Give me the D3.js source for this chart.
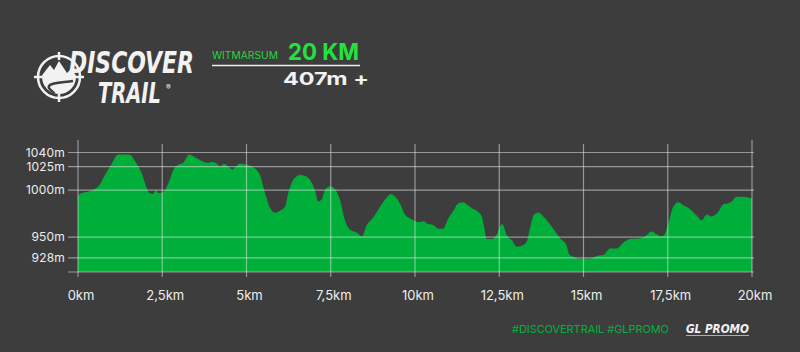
<!DOCTYPE html>
<html lang="en">
<head>
<meta charset="UTF-8">
<title>Discover Trail - Witmarsum 20 km</title>
<script src="https://d3js.org/d3.v7.min.js"></script>
<style>
  body, html {
    margin: 0;
    padding: 0;
    background: #3d3d3d;
    overflow: hidden;
  }
  svg {
    display: block;
    font-family: 'Inter', 'Open Sans', sans-serif;
  }
</style>
</head>
<body>
<svg id="chart" width="800" height="352"></svg>
<script>

// elevation profile (km along course / metres)
const distKm = [0, 0.06, 0.36, 0.65, 0.75, 0.95, 1.2, 1.52, 1.74, 1.89, 2.02, 2.09, 2.22, 2.31, 2.39, 2.53,
  2.68, 2.85, 2.98, 3.12, 3.3, 3.42, 3.62, 3.82, 3.97, 4.12, 4.21, 4.33, 4.46, 4.58, 4.69, 4.79,
  5.01, 5.25, 5.4, 5.55, 5.7, 5.85, 5.99, 6.14, 6.24, 6.39, 6.59, 6.74, 6.88, 7.03, 7.13, 7.23,
  7.33, 7.48, 7.63, 7.77, 7.92, 8.07, 8.27, 8.42, 8.57, 8.76, 8.96, 9.11, 9.29, 9.46, 9.58, 9.7,
  9.9, 10.1, 10.25, 10.39, 10.54, 10.69, 10.84, 10.99, 11.14, 11.29, 11.43, 11.53, 11.68, 11.83,
  11.98, 12.05, 12.13, 12.28, 12.43, 12.52, 12.59, 12.72, 12.87, 13.02, 13.17, 13.31, 13.41, 13.53,
  13.66, 13.86, 14.06, 14.3, 14.49, 14.59, 14.73, 14.88, 15.14, 15.34, 15.39, 15.59, 15.79, 15.99,
  16.18, 16.38, 16.68, 16.83, 17.02, 17.17, 17.29, 17.39, 17.52, 17.66, 17.81, 17.96, 18.16, 18.36,
  18.51, 18.66, 18.78, 19.0, 19.15, 19.3, 19.4, 19.54, 19.74, 20];
const elevM = [994, 996, 999, 1006, 1013, 1025, 1038, 1038, 1028, 1018, 1004, 998, 996, 1000, 997, 998,
  1007, 1023, 1027, 1029, 1038, 1036, 1032, 1029, 1030, 1028, 1025, 1028, 1025, 1022, 1025, 1028,
  1027, 1023, 1016, 997, 981, 976, 978, 982, 997, 1011, 1016, 1015, 1011, 1000, 988, 990,
  1000, 1004, 1001, 990, 968, 958, 955, 951, 963, 971, 982, 990, 996, 991, 984, 974,
  969, 966, 967, 964, 963, 959, 959, 970, 978, 986, 987, 985, 981, 978,
  972, 961, 948, 948, 953, 961, 964, 952, 947, 940, 941, 945, 959, 974,
  976, 970, 961, 949, 942, 931, 929, 927, 927, 929, 930, 931, 938, 938,
  944, 948, 949, 951, 956, 953, 951, 952, 965, 982, 987, 984, 980, 973,
  968, 974, 972, 977, 985, 986, 988, 993, 993, 991];

const yTicks = [928, 950, 1000, 1025, 1040];
const xTicks = [0, 2.5, 5, 7.5, 10, 12.5, 15, 17.5, 20];
const xTickLabels = ["0km", "2,5km", "5km", "7,5km", "10km", "12,5km", "15km", "17,5km", "20km"];

const svg = d3.select("#chart");

const x = d3.scaleLinear().domain([0, 20]).range([78, 752]);
const y = d3.scaleLinear().domain([913, 1040]).range([272, 152.5]);

const profile = distKm.map((d, i) => ({km: d, m: elevM[i]}));

// elevation area
const area = d3.area()
  .x(d => x(d.km))
  .y0(y(913))
  .y1(d => y(d.m))
  .curve(d3.curveMonotoneX);

svg.append("path")
  .datum(profile)
  .attr("d", area)
  .attr("fill", "#00af39");

// grid, drawn over the area so it shows through lighter
const grid = svg.append("g")
  .attr("stroke", "rgba(225,225,225,0.55)")
  .attr("stroke-width", 1.2);

grid.selectAll("line.h")
  .data(yTicks.concat([913]))
  .join("line")
  .attr("class", "h")
  .attr("x1", 68).attr("x2", 754)
  .attr("y1", d => y(d)).attr("y2", d => y(d));

grid.selectAll("line.v")
  .data(xTicks)
  .join("line")
  .attr("class", "v")
  .attr("x1", d => x(d)).attr("x2", d => x(d))
  .attr("y1", (d, i) => (i === 0 || i === xTicks.length - 1) ? 140 : 144)
  .attr("y2", 277);

// axis labels
svg.append("g")
  .selectAll("text")
  .data(yTicks)
  .join("text")
  .attr("x", 65)
  .attr("y", d => y(d) + 4.3)
  .attr("text-anchor", "end")
  .attr("fill", "#eeeeee")
  .attr("font-size", 12)
  .attr("letter-spacing", 0.2)
  .text(d => d + "m");

svg.append("g")
  .selectAll("text")
  .data(xTicks)
  .join("text")
  .attr("x", d => x(d) + 3)
  .attr("y", 300)
  .attr("text-anchor", "middle")
  .attr("fill", "#eeeeee")
  .attr("font-size", 13)
  .text((d, i) => xTickLabels[i]);

// squeeze a text horizontally to a given width
function fitWidth(sel, left, baseline, width) {
  const len = sel.node().getComputedTextLength();
  sel.attr("transform", `translate(${left},${baseline}) scale(${width / len},1)`);
}

// logo
const logo = svg.append("g");
const cx = 59, cy = 77, r = 21;
logo.append("circle")
  .attr("cx", cx).attr("cy", cy).attr("r", r)
  .attr("fill", "none").attr("stroke", "#f2f2f2").attr("stroke-width", 2.5);
[[0, -1], [0, 1], [-1, 0], [1, 0]].forEach(([dx, dy]) => {
  logo.append("line")
    .attr("x1", cx + dx * (r - 4)).attr("y1", cy + dy * (r - 4))
    .attr("x2", cx + dx * (r + 4)).attr("y2", cy + dy * (r + 4))
    .attr("stroke", "#f2f2f2").attr("stroke-width", 2.5);
});
logo.append("clipPath").attr("id", "logoClip")
  .append("circle").attr("cx", cx).attr("cy", cy).attr("r", r - 4);
const inner = logo.append("g").attr("clip-path", "url(#logoClip)");
inner.append("path")
  .attr("d", `M${cx - 20},${cy + 2} L${cx - 9},${cy - 12} L${cx - 5},${cy - 7} L${cx},${cy - 16} L${cx + 8},${cy - 4} L${cx + 12},${cy - 8} L${cx + 20},${cy + 2} L${cx + 20},${cy + 20} L${cx - 20},${cy + 20} Z`)
  .attr("fill", "#f2f2f2");
inner.append("path")
  .attr("d", `M${cx + 14},${cy + 4} C${cx},${cy + 6} ${cx - 12},${cy + 6} ${cx - 10},${cy + 11} C${cx - 8},${cy + 15} ${cx - 2},${cy + 15} ${cx - 6},${cy + 20}`)
  .attr("fill", "none").attr("stroke", "#3d3d3d").attr("stroke-width", 2.5);

const discover = logo.append("text")
  .attr("font-family", "'DejaVu Sans Condensed', 'DejaVu Sans', sans-serif")
  .attr("font-weight", "bold").attr("font-style", "italic")
  .attr("font-size", 30)
  .attr("fill", "#f2f2f2")
  .text("DISCOVER");
fitWidth(discover, 69, 73, 125);
const trail = logo.append("text")
  .attr("font-family", "'DejaVu Sans Condensed', 'DejaVu Sans', sans-serif")
  .attr("font-weight", "bold").attr("font-style", "italic")
  .attr("font-size", 28)
  .attr("fill", "#f2f2f2")
  .text("TRAIL");
fitWidth(trail, 98, 103, 63);
logo.append("text")
  .attr("x", 166).attr("y", 90)
  .attr("font-size", 7)
  .attr("fill", "#f2f2f2")
  .text("®");

// race title
const place = svg.append("text")
  .attr("font-size", 10)
  .attr("fill", "#1fd93c")
  .text("WITMARSUM");
fitWidth(place, 212, 58.5, 66);
const dist = svg.append("text")
  .attr("font-size", 23).attr("font-weight", "bold")
  .attr("fill", "#22e33c")
  .text("20 KM");
fitWidth(dist, 288, 60, 71);
svg.append("line")
  .attr("x1", 212).attr("x2", 360)
  .attr("y1", 65.5).attr("y2", 65.5)
  .attr("stroke", "#eeeeee").attr("stroke-width", 1.3);
const gain = svg.append("text")
  .attr("font-size", 18).attr("font-weight", "bold")
  .attr("fill", "#f2f2f2")
  .text("407m +");
fitWidth(gain, 283, 85, 86);

// footer
const tags = svg.append("text")
  .attr("font-size", 11)
  .attr("fill", "#00b33a")
  .text("#DISCOVERTRAIL  #GLPROMO");
fitWidth(tags, 512, 333, 157);
const gl = svg.append("text")
  .attr("font-family", "'DejaVu Sans Condensed', 'DejaVu Sans', sans-serif")
  .attr("font-size", 12).attr("font-weight", "bold").attr("font-style", "italic")
  .attr("fill", "#f2f2f2")
  .text("GL PROMO");
fitWidth(gl, 686, 333, 63);
svg.append("line")
  .attr("x1", 686).attr("x2", 749)
  .attr("y1", 335.5).attr("y2", 335.5)
  .attr("stroke", "#cccccc").attr("stroke-width", 0.8);

</script>
</body>
</html>
